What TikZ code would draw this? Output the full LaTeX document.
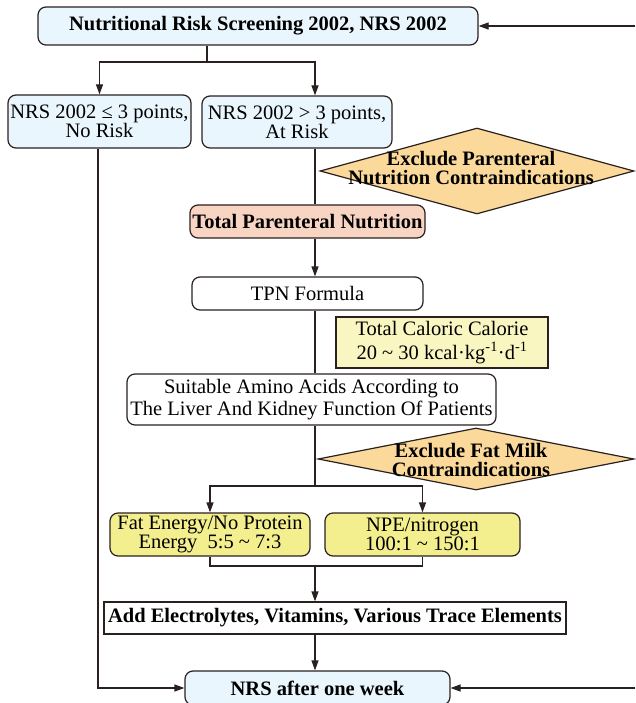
\documentclass[tikz,border=0pt]{standalone}
\usepackage{fontspec}
\setmainfont{Liberation Serif}
\usetikzlibrary{arrows.meta,shapes.geometric}

\definecolor{linecol}{HTML}{2A2020}
\definecolor{riskblue}{HTML}{EAF6FD}
\definecolor{tpnsalmon}{HTML}{F8D4C3}
\definecolor{warnorange}{HTML}{FBD99A}
\definecolor{calyellow}{HTML}{FAF6C2}
\definecolor{ratioyellow}{HTML}{F3EE8E}

\tikzset{
    base/.style={draw=linecol, line width=1.2pt, inner sep=1pt, align=center,
        font=\fontsize{20.5}{19}\selectfont},
    roundbox/.style={base, rounded corners=8pt},
    bluebox/.style={roundbox, fill=riskblue},
    warnbox/.style={draw=linecol, line width=1.2pt, fill=warnorange,
        shape=diamond, inner sep=0pt},
    warntext/.style={align=center, inner sep=0pt,
        font=\fontsize{20.5}{19.5}\selectfont\bfseries},
    link/.style={draw=linecol, line width=1.2pt},
    arr/.style={link, -{Triangle[length=10pt,width=7pt]}}
}

\begin{document}
\begin{tikzpicture}[x=1pt, y=-1pt]%% screening flow
    \useasboundingbox (0,0) rectangle (635,703);

        % screening and risk split
        \node[bluebox, minimum width=440pt, minimum height=38pt, font=\fontsize{20.5}{19}\selectfont\bfseries]
            (nrs) at (258,26) {Nutritional Risk Screening 2002, NRS 2002};
        \node[bluebox, minimum width=183pt, minimum height=53pt]
            (norisk) at (99.5,121.5) {NRS 2002 ≤ 3 points,\\No Risk};
        \node[bluebox, minimum width=190pt, minimum height=52pt]
            (atrisk) at (297,122) {NRS 2002 > 3 points,\\At Risk};
        \coordinate (axis) at (315,0);
        \coordinate (split) at (207,62);

        % parenteral branch
        \node[warnbox, minimum width=314pt, minimum height=86pt] (exclpn) at (477,171) {};
        \node[warntext] (exclpntext) at (471,168) {Exclude Parenteral\\Nutrition Contraindications};
        \node[roundbox, fill=tpnsalmon, minimum width=235pt, minimum height=33pt, font=\fontsize{20.5}{19}\selectfont\bfseries]
            (tpn) at (307.5,221.5) {Total Parenteral Nutrition};
        \node[roundbox, fill=white, minimum width=231pt, minimum height=33pt]
            (formula) at (307.5,293.5) {TPN Formula};
        \node[base, fill=calyellow, minimum width=212pt, minimum height=51pt, font=\fontsize{20.5}{24}\selectfont]
            (caloric) at (442,342.5) {Total Caloric Calorie\\20 \textasciitilde\ 30 kcal·kg\textsuperscript{-1}·d\textsuperscript{-1}};
        \node[roundbox, fill=white, minimum width=369pt, minimum height=51pt, font=\fontsize{20.5}{22}\selectfont]
            (amino) at (311.5,399.5) {Suitable Amino Acids According to\\The Liver And Kidney Function Of Patients};

        % fat milk branch
        \node[warnbox, minimum width=316pt, minimum height=62pt] (exclfat) at (476,459) {};
        \node[warntext] (exclfattext) at (471,460) {Exclude Fat Milk\\Contraindications};
        \coordinate (fork) at (315,486);
        \node[roundbox, fill=ratioyellow, minimum width=200pt, minimum height=43pt]
            (fatbox) at (210,534.5) {Fat Energy/No Protein\\Energy\ \ 5:5 \textasciitilde\ 7:3};
        \node[roundbox, fill=ratioyellow, minimum width=195pt, minimum height=43pt]
            (npebox) at (422.5,534.5) {NPE/nitrogen\\100:1 \textasciitilde\ 150:1};
        \coordinate (join) at (315,566);

        % additives and review
        \node[base, fill=white, minimum width=462pt, minimum height=32pt, font=\fontsize{20.5}{19}\selectfont\bfseries]
            (add) at (335,618) {Add Electrolytes, Vitamins, Various Trace Elements};
        \node[bluebox, minimum width=265pt, minimum height=34pt, font=\fontsize{20.5}{19}\selectfont\bfseries]
            (week) at (317.5,688) {NRS after one week};
        \coordinate (backtop) at (635,26);
        \coordinate (backbot) at (635,688);

        % connectors
        \draw[link] (nrs.south -| split) -- (split);
        \draw[arr] (split) -| (norisk.north);
        \draw[arr] (split) -| (atrisk.north -| axis);
        \draw[link] (atrisk.south -| axis) -- (tpn.north -| axis);
        \draw[arr] (tpn.south -| axis) -- (formula.north -| axis);
        \draw[link] (formula.south -| axis) -- (amino.north -| axis);
        \draw[link] (amino.south -| axis) -- (fork);
        \draw[arr] (fork) -| (fatbox.north);
        \draw[arr] (fork) -| (npebox.north);
        \draw[link] (fatbox.south) |- (join);
        \draw[link] (npebox.south) |- (join);
        \draw[arr] (join) -- (add.north -| axis);
        \draw[arr] (add.south -| axis) -- (week.north -| axis);
        \draw[arr] (norisk.south -| 98,0) |- (week.west);
        \draw[arr] (backtop) -- (nrs.east);
        \draw[arr] (backbot) -- (week.east);

\end{tikzpicture}
\end{document}
